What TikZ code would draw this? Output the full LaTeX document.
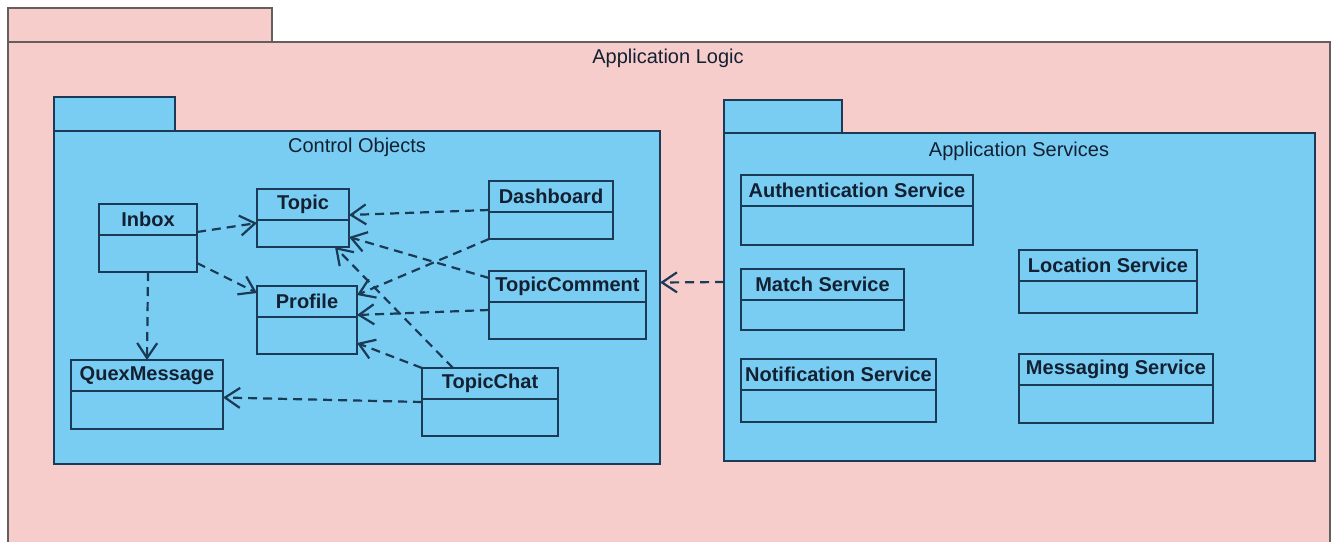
\documentclass[tikz,border=0pt]{standalone}
\usepackage{fontspec}
\setmainfont{Liberation Sans}
\usetikzlibrary{arrows.meta}

\definecolor{logicpink}{RGB}{247,205,204}
\definecolor{pkgblue}{RGB}{121,205,243}
\definecolor{umlline}{RGB}{26,58,86}
\definecolor{umltext}{RGB}{18,32,50}
\definecolor{outergray}{RGB}{100,95,95}

\tikzset{
  package/.style = {draw = umlline, fill = pkgblue, line width = 2pt, inner sep = 0pt, outer sep = 0pt, anchor = north west},
  classbox/.style = {draw = umlline, fill = pkgblue, line width = 2pt, inner sep = 0pt, outer sep = 0pt, anchor = north west},
  classname/.style = {font = \fontsize{20}{22}\selectfont\bfseries, text = umltext, anchor = north, minimum height = 30pt, inner sep = 0pt},
  pkgname/.style = {font = \fontsize{20}{22}\selectfont, text = umltext},
  depends/.style = {draw = umlline, line width = 2.2pt, dash pattern = on 9pt off 6pt, -{Straight Barb[length=15pt,width=20pt]}}
}

\begin{document}
\begin{tikzpicture}[x = 1pt, y = -1pt]
\useasboundingbox (0,0) rectangle (1337,541);
% outer package
\draw [draw = outergray, fill = logicpink, line width = 2pt] (8,8) rectangle (272,42);
\node [package, draw = outergray, fill = logicpink, minimum width = 1322, minimum height = 540] (logic) at (8,42) {};
\node [pkgname] (logictitle) at (668,58) {Application Logic};
% control objects package
\draw [package] (54,97) rectangle (175,131);
\node [package, minimum width = 606, minimum height = 333] (control) at (54,131) {};
\node [pkgname] (controltitle) at (357,147) {Control Objects};
% application services package
\draw [package] (724,100) rectangle (842,133);
\node [package, minimum width = 591, minimum height = 328] (services) at (724,133) {};
\node [pkgname] (servicestitle) at (1019,151) {Application Services};
% classes
\foreach \n/\x/\y/\w/\h/\lbl in {inbox/99/204/98/68/Inbox, topic/257/189/92/58/Topic,
  profile/257/286/100/68/Profile, quex/71/360/152/69/QuexMessage,
  dashboard/489/181/124/58/Dashboard, topiccomment/489/271/157/68/TopicComment,
  topicchat/422/368/136/68/TopicChat, auth/741/175/232/70/Authentication Service,
  match/741/269/163/61/Match Service, notif/741/359/195/63/Notification Service,
  location/1019/250/178/63/Location Service, messaging/1019/354/194/69/Messaging Service}{
\node [classbox, minimum width = \w, minimum height = \h] (\n) at (\x,\y) {};
\node [classname] at (\n.north) {\lbl};
\draw [draw = umlline, line width = 2pt] (\n.north west) ++(0,31) -- ++(\w,0);
}
% dependencies
\draw [depends] ([yshift=6]inbox.east) -- ([yshift=-5]topic.west);
\draw [depends] ([yshift=-25]inbox.east) -- ([yshift=27]profile.west);
\draw [depends] (inbox.south) -- (quex.north);
\draw [depends] (dashboard.west) -- ([yshift=3]topic.east);
\draw [depends] (dashboard.south west) -- ([yshift=25]profile.east);
\draw [depends] ([yshift=27]topiccomment.west) -- ([yshift=-19]topic.east);
\draw [depends] ([yshift=-5]topiccomment.west) -- ([yshift=5]profile.east);
\draw [depends] ([xshift=-37]topicchat.north) -- ([xshift=32]topic.south);
\draw [depends] (topicchat.north west) -- ([yshift=-23]profile.east);
\draw [depends] (topicchat.west) -- ([yshift=-3]quex.east);
\draw [depends] ([yshift=15]services.west) -- ([yshift=15]control.east);
\end{tikzpicture}
\end{document}
